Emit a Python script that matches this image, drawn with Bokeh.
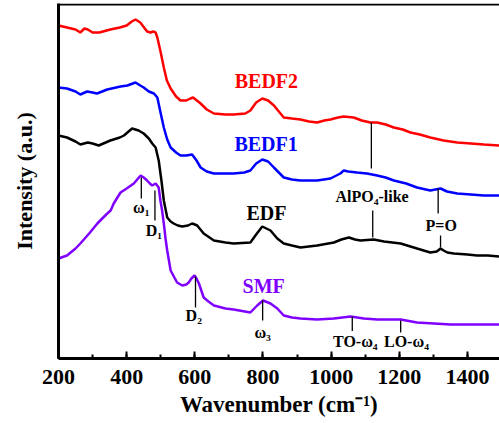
from bokeh.plotting import figure
from bokeh.models import (ColumnDataSource, FixedTicker, SingleIntervalTicker, Range1d, Span)
from bokeh.core.properties import value
from bokeh.embed import file_html
from bokeh.resources import INLINE

FONT = value("Liberation Serif")

# ---- data (wavenumber, intensity in arbitrary offset units) ----
bedf2_x = [200, 225, 250, 264, 276, 286, 300, 320, 352, 380, 400, 415, 426, 440, 460, 470, 478, 485, 490, 500, 509, 518, 529, 545, 558, 575, 587, 595, 606, 617, 635, 656, 690, 714, 748, 763, 780, 798, 815, 832, 861, 885, 910, 935, 959, 980, 998, 1020, 1037, 1066, 1090, 1115, 1135, 1160, 1184, 1210, 1233, 1260, 1291, 1330, 1370, 1410, 1448, 1494]
bedf2_y = [333, 331, 329, 326, 330, 329, 326, 326, 329, 331, 333, 337, 339, 336, 327, 326, 327, 326, 321, 306, 291, 278, 270, 262, 258, 258, 260, 261, 258, 255, 249, 245, 244, 244, 245, 248, 256, 260, 258, 253, 241, 240, 239, 237, 236, 238, 239, 241, 242, 241, 238, 236, 236, 234, 231, 229, 226, 224, 221, 218, 216, 215, 214, 213]

bedf1_x = [200, 225, 250, 264, 284, 300, 313, 343, 382, 402, 426, 440, 450, 465, 480, 490, 500, 509, 519, 529, 545, 558, 575, 592, 605, 617, 635, 656, 690, 714, 745, 763, 780, 798, 815, 832, 861, 885, 910, 959, 998, 1027, 1037, 1050, 1076, 1105, 1135, 1160, 1184, 1220, 1252, 1291, 1321, 1340, 1370, 1410, 1448, 1494]
bedf1_y = [271, 270, 267, 264, 267, 266, 265, 269, 272, 273, 276, 273, 271, 267, 265, 261, 245, 231, 219, 211, 206, 203, 203, 204, 198, 191, 187, 185, 185, 185, 186, 188, 195, 199, 197, 191, 181, 179, 178, 178, 180, 185, 188, 187, 186, 185, 183, 181, 178, 175, 171, 168, 170, 167, 165, 164, 163, 163]

edf_x = [200, 225, 250, 264, 286, 300, 318, 352, 380, 392, 416, 435, 450, 465, 475, 485, 494, 502, 509, 519, 529, 538, 550, 563, 580, 592, 600, 607, 626, 656, 690, 714, 763, 780, 798, 822, 842, 861, 885, 910, 959, 1008, 1030, 1052, 1070, 1086, 1125, 1155, 1204, 1252, 1291, 1310, 1321, 1330, 1341, 1360, 1400, 1428, 1460, 1494]
edf_y = [223, 221, 217, 214, 216, 215, 213, 218, 221, 223, 230, 228, 225, 220, 215, 211, 198, 178, 158, 141, 137, 135, 133, 132, 133, 135, 134, 133, 125, 118, 116, 115, 116, 124, 132, 128, 120, 115, 113, 111, 113, 116, 119, 121, 119, 118, 119, 117, 115, 110, 106, 107, 110, 108, 106, 105, 104, 103, 103, 102]

smf_x = [200, 225, 250, 264, 290, 314, 340, 353, 362, 382, 400, 421, 441, 450, 460, 468, 475, 485, 494, 499, 504, 509, 514, 519, 529, 540, 548, 563, 575, 582, 590, 599, 605, 612, 626, 640, 656, 690, 714, 763, 783, 800, 822, 842, 861, 885, 910, 959, 1008, 1057, 1096, 1135, 1204, 1252, 1301, 1350, 1420, 1494]
smf_y = [100, 103, 110, 115, 125, 135, 144, 148, 155, 166, 170, 175, 183, 181, 178, 175, 173, 175, 171, 158, 148, 135, 120, 108, 88, 81, 76, 73, 74, 76, 80, 83, 80, 75, 61, 57, 53, 50, 49, 46, 53, 58, 55, 50, 43, 41, 40, 39, 40, 42, 40, 39, 39, 36, 35, 34, 34, 34]

series_names = ["BEDF2", "BEDF1", "EDF", "SMF"]
series_colors = ["#FF0000", "#0000FF", "#000000", "#8000FF"]
series_label_x = [810, 809, 810, 802]
series_label_y = [278, 215, 146, 73]

# annotation markers: (x, y_top, y_bottom)
mark_x = [443, 483, 602, 799, 1062, 1204, 1118, 1122, 1314, 1321]
mark_y0 = [181, 168, 82, 58, 42, 38, 236, 148, 170, 123]
mark_y1 = [160, 138, 51, 38, 27.5, 26, 190, 121, 145, 111]

ann_text = ["ω₁", "D₁", "D₂", "ω₃", "TO-ω₄", "LO-ω₄", "AlPO₄-like", "P=O"]
ann_x = [443, 480, 597, 799, 1071, 1221, 1120, 1323]
ann_y = [151, 128, 43, 26, 17, 17, 162, 133]

x_ticks_interval = 200
Y_MAX = 355

p = figure(width=499, height=423, output_backend="svg", toolbar_location=None,
           x_range=Range1d(200, 1494), y_range=Range1d(0, Y_MAX),
           min_border_left=58, min_border_right=0, min_border_top=3, min_border_bottom=65)
p.outline_line_color = None
p.grid.visible = False
p.background_fill_color = "white"

for xs, ys, c in zip([bedf2_x, bedf1_x, edf_x, smf_x], [bedf2_y, bedf1_y, edf_y, smf_y], series_colors):
    p.line(xs, ys, line_color=c, line_width=2.5)

p.segment(x0=mark_x, y0=mark_y0, x1=mark_x, y1=mark_y1, line_color="black", line_width=1.3)

src_lab = ColumnDataSource(dict(x=series_label_x, y=series_label_y, t=series_names, c=series_colors))
p.text(x="x", y="y", text="t", text_color="c", source=src_lab, text_font=FONT,
       text_font_style="bold", text_font_size="20px", text_align="center", text_baseline="middle")

src_ann = ColumnDataSource(dict(x=ann_x, y=ann_y, t=ann_text))
p.text(x="x", y="y", text="t", text_color="black", source=src_ann, text_font=FONT,
       text_font_style="bold", text_font_size="16px", text_align="center", text_baseline="middle")

# top frame border (just inside the frame so it is not clipped)
p.add_layout(Span(location=Y_MAX - 1, dimension="width", line_color="black", line_width=2))

# x axis
xa = p.xaxis[0]
xa.ticker = SingleIntervalTicker(interval=x_ticks_interval, num_minor_ticks=2)
xa.axis_line_width = 3
xa.major_tick_line_width = 2
xa.minor_tick_line_width = 2
xa.major_tick_in = 7
xa.major_tick_out = 0
xa.minor_tick_in = 4
xa.minor_tick_out = 0
xa.major_label_text_font = "Liberation Serif"
xa.major_label_text_font_style = "bold"
xa.major_label_text_font_size = "22px"
xa.major_label_text_color = "black"
xa.major_label_text_line_height = 0.9
xa.major_label_standoff = 11
xa.axis_label = "Wavenumber (cm⁻¹)"
xa.axis_label_text_font = "Liberation Serif"
xa.axis_label_text_font_style = "bold"
xa.axis_label_text_font_size = "23px"
xa.axis_label_text_color = "black"
xa.axis_label_text_line_height = 0.9
xa.axis_label_standoff = 5

ya = p.yaxis[0]
ya.ticker = FixedTicker(ticks=[])
ya.axis_line_width = 3
ya.major_tick_in = 0
ya.major_tick_out = 0
ya.minor_tick_in = 0
ya.minor_tick_out = 0
ya.major_label_text_font_size = "0px"
ya.major_label_standoff = 0
ya.axis_label = "Intensity (a.u.)"
ya.axis_label_text_font = "Liberation Serif"
ya.axis_label_text_font_style = "bold"
ya.axis_label_text_font_size = "22px"
ya.axis_label_text_color = "black"
ya.axis_label_standoff = 22

open("out.html", "w").write(file_html(p, INLINE))
